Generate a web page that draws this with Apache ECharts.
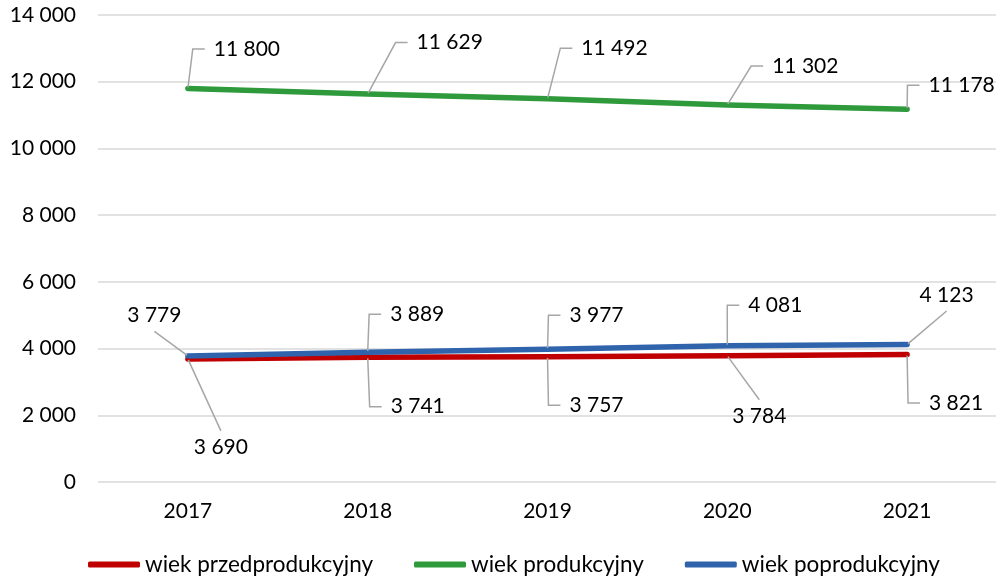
<!DOCTYPE html>
<html>
<head>
<meta charset="utf-8">
<script src="https://cdn.jsdelivr.net/npm/echarts@6/dist/echarts.min.js"></script>
<style>
  html, body { margin: 0; padding: 0; background: #ffffff; }
  #chart { width: 996px; height: 581px; }
</style>
</head>
<body>
<div id="chart"></div>
<script>
// Population by economic age group, 2017-2021
const years = ['2017', '2018', '2019', '2020', '2021'];
const seriesNames = ['wiek przedprodukcyjny', 'wiek produkcyjny', 'wiek poprodukcyjny'];
const przedprodukcyjny = [3690, 3741, 3757, 3784, 3821];
const produkcyjny = [11800, 11629, 11492, 11302, 11178];
const poprodukcyjny = [3779, 3889, 3977, 4081, 4123];
const yMin = 0, yMax = 14000, yStep = 2000;

// Callout placement: label centre offset from its point (px) and leader style
// ('e' = bent leader with a short horizontal stub, 's' = straight leader).
const calloutPrzed = [[33, 88, 's'], [50, 49.5, 'e'], [49, 48.5, 'e'], [32, 60, 's'], [49, 48.5, 'e']];
const calloutProd = [[59, -39.5, 'e'], [82, -51.5, 'e'], [67, -50.5, 'e'], [78, -39, 'e'], [54.5, -24, 'e']];
const calloutPopr = [[-33.5, -40.5, 's'], [49.5, -38, 'e'], [49, -34, 'e'], [48, -40.5, 'e'], [39.5, -49.5, 's']];

const FONT = 'Lato';
const TEXT = '#000000';
const fmt = v => String(v).replace(/\B(?=(\d{3})+(?!\d))/g, ' ');

function buildData(values, callouts) {
  return values.map((v, i) => callouts[i][2] === 's'
    ? { value: v, label: { padding: [5, 40] }, labelLine: { length2: 0 } }
    : { value: v });
}

function calloutLayout(callouts) {
  return function (p) {
    const c = callouts[p.dataIndex];
    return {
      x: p.rect.x + p.rect.width / 2 + c[0],
      y: p.rect.y + p.rect.height / 2 + c[1],
      align: 'center',
      verticalAlign: 'middle'
    };
  };
}

function lineSeries(name, values, callouts, color) {
  return {
    name: name,
    type: 'line',
    data: buildData(values, callouts),
    showSymbol: true,
    symbol: 'circle',
    symbolSize: 2,
    itemStyle: { color: color },
    lineStyle: { color: color, width: 5.5, cap: 'round', join: 'round' },
    label: {
      show: true,
      formatter: p => fmt(p.value),
      fontFamily: FONT,
      fontSize: 21,
      lineHeight: 22,
      color: TEXT,
      padding: [5, 9],
      backgroundColor: 'rgba(255,255,255,0)'
    },
    labelLine: {
      show: true,
      length2: 12,
      smooth: false,
      lineStyle: { color: '#A6A6A6', width: 1.5 }
    },
    labelLayout: calloutLayout(callouts),
    emphasis: { disabled: true },
    silent: true
  };
}

const chart = echarts.init(document.getElementById('chart'), null, { renderer: 'canvas' });
chart.setOption({
  animation: false,
  backgroundColor: '#ffffff',
  textStyle: { fontFamily: FONT },
  grid: { left: 98, top: 15, width: 899, height: 467, outerBoundsMode: 'none', containLabel: false },
  legend: {
    data: seriesNames,
    left: 88,
    top: 553,
    padding: 0,
    icon: 'roundRect',
    itemWidth: 52,
    itemHeight: 6,
    itemGap: 41,
    textStyle: { fontFamily: FONT, fontSize: 22.5, color: TEXT },
    selectedMode: false
  },
  xAxis: {
    type: 'category',
    data: years,
    boundaryGap: true,
    axisLine: { show: false },
    axisTick: { show: false },
    axisLabel: { margin: 19, fontFamily: FONT, fontSize: 21, color: TEXT }
  },
  yAxis: {
    type: 'value',
    min: yMin,
    max: yMax,
    interval: yStep,
    axisLine: { show: false },
    axisTick: { show: false },
    axisLabel: { margin: 22, fontFamily: FONT, fontSize: 21, color: TEXT, formatter: fmt },
    splitLine: { show: true, lineStyle: { color: '#D9D9D9', width: 1.5 } }
  },
  series: [
    lineSeries(seriesNames[0], przedprodukcyjny, calloutPrzed, '#C00000'),
    lineSeries(seriesNames[1], produkcyjny, calloutProd, '#2E9A3C'),
    lineSeries(seriesNames[2], poprodukcyjny, calloutPopr, '#2F64AD')
  ]
});
</script>
</body>
</html>
